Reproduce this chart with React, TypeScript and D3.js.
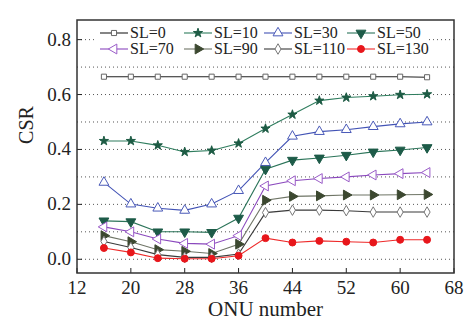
import React, { useEffect, useRef } from 'react';
import * as d3 from 'd3';

// ONU counts on the x axis
const onuNumbers = [16, 20, 24, 28, 32, 36, 40, 44, 48, 52, 56, 60, 64];

// CSR per SL value
const sl0 = [0.665, 0.665, 0.665, 0.665, 0.665, 0.665, 0.665, 0.665, 0.665, 0.665, 0.665, 0.665, 0.663];
const sl10 = [0.431, 0.431, 0.415, 0.391, 0.396, 0.422, 0.476, 0.527, 0.578, 0.589, 0.594, 0.599, 0.601];
const sl30 = [0.28, 0.201, 0.186, 0.178, 0.201, 0.25, 0.352, 0.448, 0.465, 0.472, 0.483, 0.493, 0.5];
const sl50 = [0.14, 0.137, 0.1, 0.1, 0.098, 0.15, 0.328, 0.361, 0.369, 0.379, 0.391, 0.398, 0.407];
const sl70 = [0.118, 0.1, 0.074, 0.058, 0.055, 0.086, 0.267, 0.286, 0.294, 0.3, 0.307, 0.312, 0.316];
const sl90 = [0.086, 0.064, 0.035, 0.029, 0.021, 0.055, 0.215, 0.229, 0.231, 0.234, 0.234, 0.235, 0.236];
const sl110 = [0.065, 0.043, 0.017, 0.007, 0.007, 0.019, 0.17, 0.179, 0.179, 0.177, 0.172, 0.172, 0.172];
const sl130 = [0.041, 0.025, 0.004, 0.002, 0.002, 0.013, 0.077, 0.061, 0.067, 0.064, 0.061, 0.071, 0.071];

const xTicks = [12, 20, 28, 36, 44, 52, 60, 68];
const yTicks = [0, 0.2, 0.4, 0.6, 0.8];
const gridValues = [0, 0.1, 0.2, 0.3, 0.4, 0.5, 0.6, 0.7, 0.8];

const seriesList = [
  { name: 'SL=0', values: sl0, line: '#222', stroke: '#666', fill: '#fff', shape: 'square', rot: 0, size: 26 },
  { name: 'SL=10', values: sl10, line: '#2f7d5e', stroke: '#1d5b44', fill: '#1d5b44', shape: 'star', rot: 0, size: 26 },
  { name: 'SL=30', values: sl30, line: '#4253b5', stroke: '#4a5ab8', fill: '#fff', shape: 'triangle', rot: 0, size: 42 },
  { name: 'SL=50', values: sl50, line: '#2b7459', stroke: '#1d5b48', fill: '#1d5b48', shape: 'triangle', rot: 180, size: 42 },
  { name: 'SL=70', values: sl70, line: '#8a48bd', stroke: '#9a5cc8', fill: '#fff', shape: 'triangle', rot: -90, size: 42 },
  { name: 'SL=90', values: sl90, line: '#6f7566', stroke: '#3c4830', fill: '#3c4830', shape: 'triangle', rot: 90, size: 42 },
  { name: 'SL=110', values: sl110, line: '#3a3a3a', stroke: '#777', fill: '#fff', shape: 'diamond', rot: 0, size: 32 },
  { name: 'SL=130', values: sl130, line: '#ee2a2a', stroke: '#e8161b', fill: '#e8161b', shape: 'circle', rot: 0, size: 38 },
];

const shapes: any = {
  square: d3.symbolSquare,
  star: d3.symbolStar,
  triangle: d3.symbolTriangle,
  diamond: d3.symbolDiamond,
  circle: d3.symbolCircle,
};

export default function App() {
  const ref = useRef<SVGSVGElement>(null);

  useEffect(() => {
    const svg = d3.select(ref.current);
    svg.selectAll('*').remove();

    const left = 77, right = 454, top = 20, bottom = 273;
    const x = d3.scaleLinear().domain([12, 68]).range([left, right]);
    const y = d3.scaleLinear().domain([-0.05, 0.8715]).range([bottom, top]);
    const font = "'Liberation Serif', 'Times New Roman', serif";

    // dotted grid
    svg.selectAll('.grid').data(gridValues).enter().append('line')
      .attr('x1', left).attr('x2', right)
      .attr('y1', (d) => y(d)).attr('y2', (d) => y(d))
      .attr('stroke', '#555').attr('stroke-width', 1)
      .attr('stroke-dasharray', '1,3');

    // inward ticks
    svg.selectAll('.xt').data(xTicks).enter().append('line')
      .attr('x1', (d) => x(d)).attr('x2', (d) => x(d))
      .attr('y1', bottom).attr('y2', bottom - 5)
      .attr('stroke', '#222');
    svg.selectAll('.yt').data(yTicks).enter().append('line')
      .attr('x1', left).attr('x2', left + 5)
      .attr('y1', (d) => y(d)).attr('y2', (d) => y(d))
      .attr('stroke', '#222');

    svg.selectAll('.xl').data(xTicks).enter().append('text')
      .attr('x', (d) => x(d)).attr('y', bottom + 21)
      .attr('text-anchor', 'middle')
      .style('font-family', font).style('font-size', '19px').attr('fill', '#222')
      .text((d) => d);
    svg.selectAll('.yl').data(yTicks).enter().append('text')
      .attr('x', left - 6).attr('y', (d) => y(d) + 6)
      .attr('text-anchor', 'end')
      .style('font-family', font).style('font-size', '19px').attr('fill', '#222')
      .text((d) => d3.format('.1f')(d));

    svg.append('text')
      .attr('x', (left + right) / 2 + 0).attr('y', 316)
      .attr('text-anchor', 'middle')
      .style('font-family', font).style('font-size', '21px').attr('fill', '#222')
      .text('ONU number');
    svg.append('text')
      .attr('transform', 'translate(33,125) rotate(-90)')
      .attr('text-anchor', 'middle')
      .style('font-family', font).style('font-size', '20px').attr('fill', '#222')
      .text('CSR');

    const line = d3.line<number>()
      .x((d, i) => x(onuNumbers[i]))
      .y((d) => y(d));

    const drawMarker = (g: any, s: any, px: number, py: number) => {
      g.append('path')
        .attr('d', d3.symbol().type(shapes[s.shape]).size(s.size)())
        .attr('transform', 'translate(' + px + ',' + py + ') rotate(' + s.rot + ')')
        .attr('fill', s.fill)
        .attr('stroke', s.stroke)
        .attr('stroke-width', 1);
    };

    seriesList.forEach((s) => {
      const g = svg.append('g');
      g.append('path')
        .attr('d', line(s.values))
        .attr('fill', 'none')
        .attr('stroke', s.line)
        .attr('stroke-width', 1.1);
      s.values.forEach((v, i) => drawMarker(g, s, x(onuNumbers[i]), y(v)));
    });

    // legend
    const legend = svg.append('g');
    legend.append('rect')
      .attr('x', 94).attr('y', 24).attr('width', 334).attr('height', 33)
      .attr('fill', '#fff');
    const cols = [100, 184, 264, 347];
    seriesList.forEach((s, i) => {
      const lx = cols[i % 4];
      const ly = i < 4 ? 33 : 49;
      legend.append('line')
        .attr('x1', lx).attr('x2', lx + 28)
        .attr('y1', ly).attr('y2', ly)
        .attr('stroke', s.line).attr('stroke-width', 1.1);
      drawMarker(legend, s, lx + 14, ly);
      legend.append('text')
        .attr('x', lx + 30).attr('y', ly + 5)
        .style('font-family', font).style('font-size', '16px').attr('fill', '#222')
        .text(s.name);
    });

    // frame
    svg.append('rect')
      .attr('x', left).attr('y', top)
      .attr('width', right - left).attr('height', bottom - top)
      .attr('fill', 'none').attr('stroke', '#333').attr('stroke-width', 1.5);
  }, []);

  return (
    <svg ref={ref} width={468} height={322}
      style={{ position: 'absolute', left: 0, top: 0, background: '#fff' }} />
  );
}
